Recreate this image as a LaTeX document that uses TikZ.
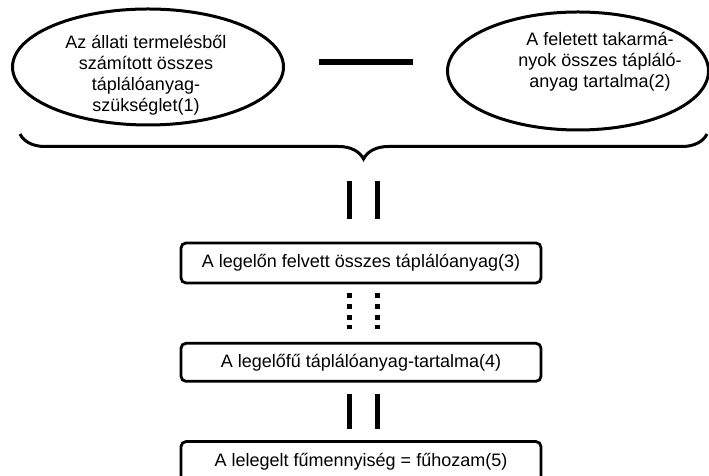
\documentclass[tikz,border=0pt]{standalone}
\usepackage{fontspec}
\setmainfont{Liberation Sans}
\usetikzlibrary{positioning,shapes.geometric,decorations.pathreplacing}
\newcommand{\diagfont}{\fontsize{18}{21}\selectfont}

\begin{document}
\begin{tikzpicture}[
  x=1pt, y=1pt,
  node distance=57.5pt,
  oval/.style={draw, ellipse, line width=3pt},
  ovaltext/.style={align=center, font=\diagfont, inner sep=0pt},
  box/.style={draw, rounded corners=5pt, line width=2.8pt, minimum width=360pt, minimum height=40pt, font=\diagfont},
  minusbar/.style={line width=6pt},
  eqbar/.style={line width=5pt},
  dotbar/.style={line width=5pt, dash pattern=on 5pt off 5.7pt},
  brace/.style={decorate, decoration={brace, mirror, amplitude=25pt}, line width=3pt}
]
\useasboundingbox (0,0) rectangle (709,476);
\node[oval, minimum width=271pt, minimum height=116pt] (need) at (148,409) {};
\node[oval, minimum width=261pt, minimum height=118pt] (feed) at (578,405) {};
\node[ovaltext] (needtxt) at (146,400.5) {Az állati termelésből\\számított összes\\táplálóanyag-\\szükséglet(1)};
\node[ovaltext] (feedtxt) at (600,414) {A feletett takarmá-\\nyok összes tápláló-\\anyag tartalma(2)};
\draw[minusbar] ([shift={(34,5)}]need.east) -- ([shift={(-33,9)}]feed.west);
\coordinate (bl) at (20,342);
\coordinate (br) at (707,342);
\coordinate (tip) at (363.5,317);
\draw[brace] (bl) -- (br);
\node[box] (intake) at (361,213) {A legelőn felvett összes táplálóanyag(3)};
\node[box, minimum height=38pt, below=of intake] (content) {A legelőfű táplálóanyag-tartalma(4)};
\node[box, below=of content] (yield) {A lelegelt fűmennyiség = fűhozam(5)};
\foreach \dx in {-14,14} {
  \draw[eqbar, shorten <=22pt, shorten >=23pt] ([xshift=\dx pt]tip) -- ([xshift=\dx pt]tip |- intake.north);
  \draw[dotbar, shorten <=9pt, shorten >=13pt] ([xshift=\dx pt]tip |- intake.south) -- ([xshift=\dx pt]tip |- content.north);
  \draw[eqbar, shorten <=11pt, shorten >=11pt] ([xshift=\dx pt]tip |- content.south) -- ([xshift=\dx pt]tip |- yield.north);
}
\end{tikzpicture}
\end{document}
